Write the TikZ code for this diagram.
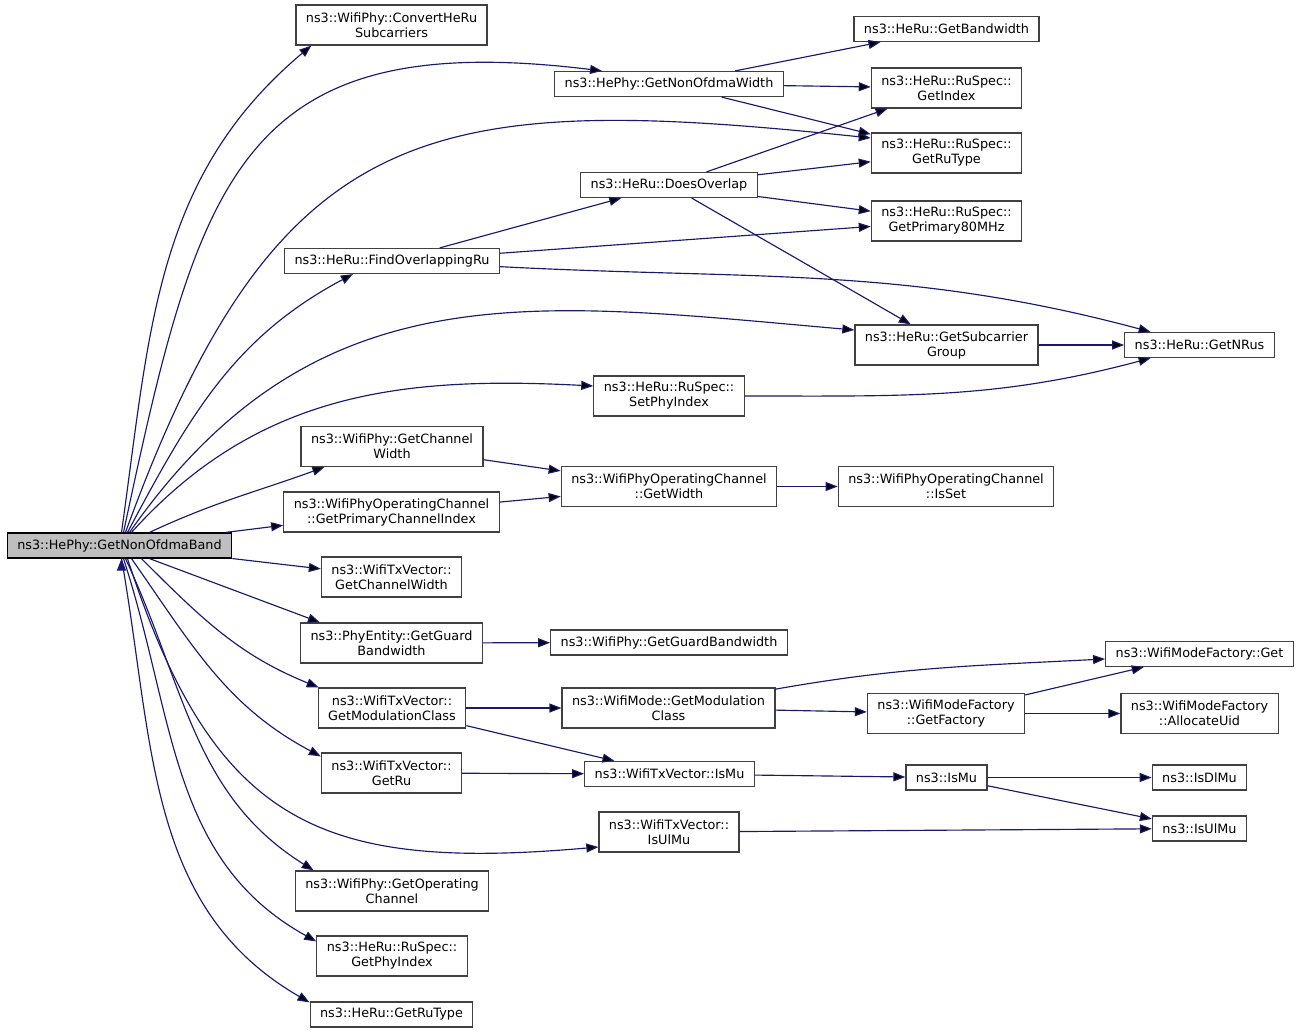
\documentclass[tikz,border=0pt]{standalone}
\usepackage{fontspec}
\setmainfont{DejaVu Sans}
\usetikzlibrary{arrows.meta,positioning}
\definecolor{callblue}{HTML}{191970}
\definecolor{boxline}{HTML}{404040}
\definecolor{rootfill}{HTML}{BFBFBF}
\tikzset{
  fn/.style={draw=boxline, line width=1.2pt, fill=white, inner xsep=10pt, inner ysep=2pt,
    minimum height=25pt, align=center, font=\fontsize{12.8}{15}\selectfont},
  fn2/.style={fn, minimum height=40pt},
  root/.style={fn, fill=rootfill, draw=black},
  call/.style={draw=callblue, line width=1.15pt, -{Triangle[length=12pt,width=9pt]}}
}
\begin{document}
\begin{tikzpicture}[x=1pt,y=1pt]
  \useasboundingbox (0,0) rectangle (1301,-1033);
  % caller
  \node[root] (main) at (119.5,-545.5) {ns3::HePhy::GetNonOfdmaBand};
  % first level
  \node[fn2] (convHeRu)     at (391.5,-25)   {ns3::WifiPhy::ConvertHeRu\\Subcarriers};
  \node[fn]  (findOverlap)  at (392,-261)    {ns3::HeRu::FindOverlappingRu};
  \node[fn2] (phyChWidth)   at (392,-446.5)  {ns3::WifiPhy::GetChannel\\Width};
  \node[fn2] (primChIdx)    at (391.5,-512)  {ns3::WifiPhyOperatingChannel\\::GetPrimaryChannelIndex};
  \node[fn2] (txChWidth)    at (391.5,-577)  {ns3::WifiTxVector::\\GetChannelWidth};
  \node[fn2] (guardBw)      at (391.5,-643)  {ns3::PhyEntity::GetGuard\\Bandwidth};
  \node[fn2] (txModClass)   at (392,-708)    {ns3::WifiTxVector::\\GetModulationClass};
  \node[fn2] (txGetRu)      at (391.5,-773)  {ns3::WifiTxVector::\\GetRu};
  \node[fn2] (phyOpChannel) at (392,-891)    {ns3::WifiPhy::GetOperating\\Channel};
  \node[fn2] (ruPhyIdx)     at (392,-956)    {ns3::HeRu::RuSpec::\\GetPhyIndex};
  \node[fn]  (heRuType)     at (391.5,-1014.5) {ns3::HeRu::GetRuType};
  % second level
  \node[fn]  (nonOfdmaW)    at (669,-84)     {ns3::HePhy::GetNonOfdmaWidth};
  \node[fn]  (doesOverlap)  at (669,-185)    {ns3::HeRu::DoesOverlap};
  \node[fn2] (setPhyIdx)    at (669,-396)    {ns3::HeRu::RuSpec::\\SetPhyIndex};
  \node[fn2] (opChWidth)    at (669,-486.5)  {ns3::WifiPhyOperatingChannel\\::GetWidth};
  \node[fn]  (phyGuardBw)   at (669,-642.5)  {ns3::WifiPhy::GetGuardBandwidth};
  \node[fn2] (modeModClass) at (668.5,-708)  {ns3::WifiMode::GetModulation\\Class};
  \node[fn]  (txIsMu)       at (669.5,-774)  {ns3::WifiTxVector::IsMu};
  \node[fn2] (txIsUlMu)     at (669,-832)    {ns3::WifiTxVector::\\IsUlMu};
  % third level
  \node[fn]  (bandwidth)    at (946.5,-29)   {ns3::HeRu::GetBandwidth};
  \node[fn2] (ruIndex)      at (946.5,-88)   {ns3::HeRu::RuSpec::\\GetIndex};
  \node[fn2] (ruType)       at (946.5,-153)  {ns3::HeRu::RuSpec::\\GetRuType};
  \node[fn2] (ruPrimary80)  at (946.5,-221)  {ns3::HeRu::RuSpec::\\GetPrimary80MHz};
  \node[fn2] (subcarrierGrp) at (946.5,-345) {ns3::HeRu::GetSubcarrier\\Group};
  \node[fn2] (opChIsSet)    at (946,-486.5)  {ns3::WifiPhyOperatingChannel\\::IsSet};
  \node[fn2] (getFactory)   at (946,-713.5)  {ns3::WifiModeFactory\\::GetFactory};
  \node[fn]  (isMu)         at (946.5,-777.5) {ns3::IsMu};
  % fourth level
  \node[fn]  (nRus)         at (1199.5,-345) {ns3::HeRu::GetNRus};
  \node[fn]  (factoryGet)   at (1199.5,-654) {ns3::WifiModeFactory::Get};
  \node[fn2] (allocUid)     at (1199.5,-713.5) {ns3::WifiModeFactory\\::AllocateUid};
  \node[fn]  (isDlMu)       at (1199.5,-777.5) {ns3::IsDlMu};
  \node[fn]  (isUlMu)       at (1199.5,-828.5) {ns3::IsUlMu};

  % calls from the caller
  \path[call]
    ([xshift=2pt]main.north)  edge[out=82,in=220] ([xshift=16pt]convHeRu.south west)
    ([xshift=4pt]main.north)  edge[out=78,in=173,looseness=1.4] ([xshift=48pt]nonOfdmaW.north west)
    ([xshift=6pt]main.north)  edge[out=70,in=174,looseness=1.35] ([yshift=15pt]ruType.west)
    ([xshift=8pt]main.north)  edge[out=62,in=208] ([xshift=69pt]findOverlap.south west)
    ([xshift=10pt]main.north) edge[out=55,in=175,looseness=1.1] ([yshift=15pt]subcarrierGrp.west)
    ([xshift=12pt]main.north) edge[out=48,in=177] ([yshift=10pt]setPhyIdx.west)
    ([xshift=30pt]main.north) edge[out=25,in=200] ([xshift=24pt]phyChWidth.south west)
    (main) edge (primChIdx)
    (main) edge (txChWidth)
    ([xshift=30pt]main.south) edge ([xshift=20pt]guardBw.north west)
    ([xshift=22pt]main.south) edge[out=-45,in=158] ([xshift=1pt]txModClass.north west)
    ([xshift=12pt]main.south) edge[out=-55,in=152] ([yshift=-4pt]txGetRu.north west)
    ([xshift=8pt]main.south)  edge[out=-72,in=185,looseness=1.3] ([yshift=-15pt]txIsUlMu.west)
    ([xshift=6pt]main.south)  edge[out=-65,in=148] ([xshift=19pt]phyOpChannel.north west)
    ([xshift=4pt]main.south)  edge[out=-72,in=151] ([yshift=-6pt]ruPhyIdx.north west)
    ([xshift=2pt]main.south)  edge[out=-80,in=150] ([yshift=-1pt]heRuType.north west);

  % deeper calls
  \path[call]
    (nonOfdmaW) edge (bandwidth)
                edge (ruIndex)
                edge (ruType)
    (doesOverlap) edge (ruIndex)
                  edge (ruType)
                  edge (ruPrimary80)
                  edge (subcarrierGrp)
    (findOverlap) edge (doesOverlap)
                  edge (ruPrimary80)
                  edge[out=-3,in=165] (nRus)
    (subcarrierGrp) edge (nRus)
    (setPhyIdx) edge[out=0,in=195] (nRus)
    (phyChWidth) edge (opChWidth)
    (primChIdx) edge (opChWidth)
    (opChWidth) edge (opChIsSet)
    (guardBw) edge (phyGuardBw)
    (txModClass) edge (modeModClass)
                 edge (txIsMu)
    (modeModClass) edge[out=10,in=183] (factoryGet)
                   edge (getFactory)
    (getFactory) edge (factoryGet)
                 edge (allocUid)
    (txGetRu) edge (txIsMu)
    (txIsMu) edge (isMu)
    (isMu) edge (isDlMu)
           edge (isUlMu)
    (txIsUlMu) edge (isUlMu);
\end{tikzpicture}
\end{document}
